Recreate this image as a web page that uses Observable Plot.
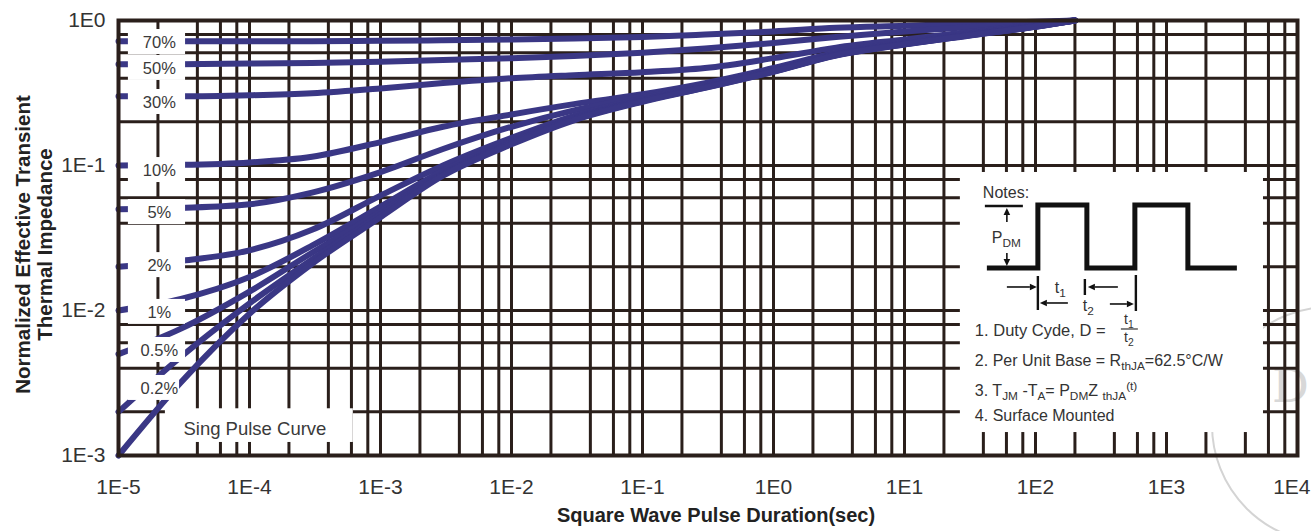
<!DOCTYPE html>
<html>
<head>
<meta charset="utf-8">
<script src="https://cdn.jsdelivr.net/npm/d3@7"></script>
<script src="https://cdn.jsdelivr.net/npm/@observablehq/plot@0.6"></script>
<style>
html, body { margin: 0; padding: 0; background: #fff; }
#chart { width: 1311px; height: 531px; overflow: hidden; }
</style>
</head>
<body>
<div id="chart"></div>
<script>
// ---------------- data ----------------
const durations = [1e-5, 3e-5, 1e-4, 3e-4, 1e-3, 3e-3, 1e-2, 3e-2, 1e-1, 3e-1, 1, 3, 10, 30, 100, 200];
const seriesNames = ["70%", "50%", "30%", "10%", "5%", "2%", "1%", "0.5%", "0.2%", "Single Pulse"];
const z70     = [0.72, 0.72, 0.72, 0.72, 0.725, 0.73, 0.74, 0.75, 0.77, 0.80, 0.84, 0.89, 0.92, 0.95, 0.98, 1.0];
const z50     = [0.50, 0.50, 0.505, 0.51, 0.52, 0.535, 0.55, 0.57, 0.60, 0.64, 0.70, 0.77, 0.84, 0.90, 0.96, 1.0];
const z30     = [0.30, 0.30, 0.305, 0.315, 0.34, 0.37, 0.40, 0.42, 0.44, 0.47, 0.55, 0.65, 0.74, 0.83, 0.94, 1.0];
const z10     = [0.10, 0.101, 0.105, 0.115, 0.145, 0.185, 0.225, 0.265, 0.31, 0.37, 0.47, 0.60, 0.71, 0.81, 0.93, 1.0];
const z5      = [0.05, 0.051, 0.054, 0.065, 0.09, 0.13, 0.185, 0.24, 0.30, 0.36, 0.46, 0.59, 0.70, 0.80, 0.92, 1.0];
const z2      = [0.02, 0.022, 0.026, 0.036, 0.062, 0.10, 0.155, 0.22, 0.29, 0.355, 0.455, 0.585, 0.695, 0.795, 0.915, 1.0];
const z1      = [0.01, 0.012, 0.017, 0.028, 0.052, 0.092, 0.148, 0.213, 0.283, 0.35, 0.45, 0.58, 0.69, 0.79, 0.91, 1.0];
const z05     = [0.005, 0.0075, 0.0135, 0.025, 0.048, 0.088, 0.145, 0.21, 0.28, 0.347, 0.447, 0.577, 0.687, 0.787, 0.908, 1.0];
const z02     = [0.002, 0.0048, 0.0112, 0.0225, 0.046, 0.086, 0.143, 0.208, 0.278, 0.345, 0.445, 0.575, 0.685, 0.785, 0.906, 1.0];
const zSingle = [0.001, 0.0032, 0.0095, 0.021, 0.044, 0.085, 0.14, 0.205, 0.275, 0.343, 0.443, 0.573, 0.683, 0.783, 0.905, 1.0];
const curveValues = [z70, z50, z30, z10, z5, z2, z1, z05, z02, zSingle];

const labelNames  = ["70%", "50%", "30%", "10%", "5%", "2%", "1%", "0.5%", "0.2%"];
const labelLevels = [0.705, 0.467, 0.272, 0.0923, 0.0474, 0.0204, 0.0097, 0.0053, 0.0029];
const labelAt = 2.05e-5;

const xTickValues = [1e-5, 1e-4, 1e-3, 1e-2, 1e-1, 1, 10, 100, 1000, 10000];
const xTickLabels = ["1E-5", "1E-4", "1E-3", "1E-2", "1E-1", "1E0", "1E1", "1E2", "1E3", "1E4"];
const yTickValues = [1e-3, 1e-2, 1e-1, 1];
const yTickLabels = ["1E-3", "1E-2", "1E-1", "1E0"];
const gridSteps = [1, 2, 4, 6, 8];
const xDecades = [1e-5, 1e-4, 1e-3, 1e-2, 1e-1, 1, 10, 100, 1000];
const yDecades = [1e-3, 1e-2, 1e-1];

const xTitle = "Square Wave Pulse Duration(sec)";
const yTitleLines = ["Normalized Effective Transient", "Thermal Impedance"];
const singleText = "Sing Pulse Curve";
const singleTextAt = [1.1e-4, 1.53e-3];

// annotation boxes (data coordinates)
const notesBox = [26.7, 5500, 0.0895, 0.00144];     // x1, x2, yTop, yBottom
const singleBox = [2.28e-5, 6.2e-4, 2.1e-3, 1.23e-3];
const labelBoxX = [1.19e-5, 3.25e-5];

// ---------------- styles ----------------
const ink = "#2a1f1b";
const curveColor = "#3a3785";
const textColor = "#333";
const FONT = "'Liberation Sans', Arial, Helvetica, sans-serif";

// ---------------- derived tables ----------------
const rows = curveValues.flatMap((vals, s) => vals.map((z, i) => ({series: seriesNames[s], t: durations[i], z})));
const xGrid = xDecades.flatMap(d => gridSteps.map(s => d * s)).concat([1e4]);
const yGrid = yDecades.flatMap(d => gridSteps.map(s => d * s)).concat([1]);
const labelRows = labelNames.map((name, i) => ({name, t: labelAt, z: labelLevels[i]}));
const lastX = xTickValues.length - 1;

function lookup(values, labels, skip) {
  return d => {
    const i = values.findIndex(v => Math.abs(Math.log10(v) - Math.log10(d)) < 1e-6);
    return i >= 0 && i !== skip ? labels[i] : "";
  };
}

// ---------------- custom annotation marks ----------------
function arrow(p, x1, y1, x2, y2) {
  const dx = Math.sign(x2 - x1), dy = Math.sign(y2 - y1);
  const L = 7, W = 3.3;
  const bx = x2 - dx * L, by = y2 - dy * L;
  p.append("line").attr("x1", x1).attr("y1", y1).attr("x2", bx).attr("y2", by)
    .attr("stroke", "#111").attr("stroke-width", 1.6);
  const px = -dy, py = dx;
  p.append("path").attr("d", `M${x2},${y2}L${bx + px * W},${by + py * W}L${bx - px * W},${by - py * W}Z`).attr("fill", "#111");
}
function rich(p, x, y, parts, size, anchor) {
  const t = p.append("text").attr("x", x).attr("y", y).attr("font-size", size).attr("fill", textColor)
    .attr("text-anchor", anchor || "start");
  let shift = 0;
  for (const part of parts) {
    const target = part.sub ? 4 : part.sup ? -6 : 0;
    t.append("tspan").attr("dy", target - shift)
      .attr("font-size", part.sub || part.sup ? size * 0.74 : size).text(part.t);
    shift = target;
  }
  return t;
}
function tick(p, x, y1, y2) {
  p.append("line").attr("x1", x).attr("x2", x).attr("y1", y1).attr("y2", y2).attr("stroke", "#111").attr("stroke-width", 2.4);
}

function notesMark(index, scales) {
  const sx = scales.x, sy = scales.y;
  const x0 = sx(notesBox[0]), x1 = sx(notesBox[1]);
  const y0 = sy(notesBox[2]), y1 = sy(notesBox[3]);
  const g = d3.create("svg:g").attr("font-family", FONT);
  g.append("rect").attr("x", x0).attr("y", y0).attr("width", x1 - x0).attr("height", y1 - y0).attr("fill", "#fff");
  const n = g.append("g").attr("transform", `translate(${x0},${y0})`);
  rich(n, 23, 26, [{t: "Notes:"}], 16);
  n.append("path").attr("d", "M27,96H78V33H127V96H175V33H228V96H277")
    .attr("fill", "none").attr("stroke", "#111").attr("stroke-width", 5).attr("stroke-linejoin", "miter");
  n.append("line").attr("x1", 25).attr("x2", 63).attr("y1", 34).attr("y2", 34).attr("stroke", "#111").attr("stroke-width", 2.4);
  arrow(n, 47, 50, 47, 36);
  rich(n, 32, 71, [{t: "P"}, {t: "DM", sub: true}], 16);
  arrow(n, 47, 81, 47, 94);
  arrow(n, 47, 115, 77, 115);
  tick(n, 78, 104, 138);
  rich(n, 95, 121, [{t: "t"}, {t: "1", sub: true}], 16);
  arrow(n, 108, 131, 80, 131);
  tick(n, 125, 107, 123);
  arrow(n, 158, 115, 128, 115);
  rich(n, 123, 139, [{t: "t"}, {t: "2", sub: true}], 16);
  arrow(n, 150, 132, 174, 132);
  tick(n, 176, 103, 139);
  rich(n, 15, 164, [{t: "1. Duty Cyde, D ="}], 16.5);
  rich(n, 169, 152, [{t: "t"}, {t: "1", sub: true}], 14, "middle");
  n.append("line").attr("x1", 161).attr("x2", 178).attr("y1", 157).attr("y2", 157).attr("stroke", textColor).attr("stroke-width", 1.2);
  rich(n, 169, 170, [{t: "t"}, {t: "2", sub: true}], 14, "middle");
  rich(n, 15, 194, [{t: "2. Per Unit Base = R"}, {t: "thJA", sub: true}, {t: "=62.5°C/W"}], 16);
  rich(n, 15, 224, [{t: "3. T"}, {t: "JM", sub: true}, {t: " -T"}, {t: "A", sub: true}, {t: "= P"}, {t: "DM", sub: true},
                    {t: "Z "}, {t: "thJA", sub: true}, {t: "(t)", sup: true}], 16);
  rich(n, 15, 249, [{t: "4. Surface Mounted"}], 16);
  return g.node();
}

function singleBoxMark(index, scales) {
  const sx = scales.x, sy = scales.y;
  const g = d3.create("svg:g");
  g.append("rect").attr("x", sx(singleBox[0])).attr("y", sy(singleBox[2]))
    .attr("width", sx(singleBox[1]) - sx(singleBox[0])).attr("height", sy(singleBox[3]) - sy(singleBox[2]))
    .attr("fill", "#fff");
  return g.node();
}

function labelBoxMark(index, scales) {
  const sx = scales.x, sy = scales.y;
  const g = d3.create("svg:g");
  const xa = sx(labelBoxX[0]), xb = sx(labelBoxX[1]);
  labelLevels.forEach((v, i) => {
    const cy = sy(v);
    const right = i === labelLevels.length - 1 ? xb - 6 : xb;
    g.append("rect").attr("x", xa).attr("y", cy - 13).attr("width", right - xa).attr("height", 25).attr("fill", "#fff");
  });
  return g.node();
}

function yTitleMark(index, scales, values, dims) {
  const g = d3.create("svg:g").attr("font-family", FONT).attr("font-weight", "bold")
    .attr("font-size", 20.5).attr("fill", "#222").attr("text-anchor", "middle");
  const cy = (dims.marginTop + dims.height - dims.marginBottom) / 2 + 7;
  yTitleLines.forEach((line, i) => {
    const cx = 23 + i * 22;
    g.append("text").attr("transform", `translate(${cx},${cy}) rotate(-90)`).attr("dy", "0.35em").text(line);
  });
  return g.node();
}

function watermarkMark(index, scales, values, dims) {
  const g = d3.create("svg:g");
  g.append("circle").attr("cx", dims.width + 19).attr("cy", 425).attr("r", 118)
    .attr("fill", "none").attr("stroke", "#d4d4d4").attr("stroke-width", 2);
  g.append("text").attr("x", dims.width - 2).attr("y", 402).attr("font-family", "'DejaVu Serif', serif")
    .attr("text-anchor", "end").attr("font-size", 46).attr("fill", "#d8d8d8").text("D");
  return g.node();
}

// ---------------- plot ----------------
const chart = Plot.plot({
  width: 1311,
  height: 531,
  marginLeft: 118,
  marginRight: 14,
  marginTop: 20,
  marginBottom: 76,
  style: {background: "#fff", fontFamily: FONT, fontSize: "21px", color: textColor},
  x: {type: "log", domain: [1e-5, 1e4], ticks: xTickValues, tickFormat: lookup(xTickValues, xTickLabels, lastX),
      tickSize: 0, tickPadding: 24, label: null},
  y: {type: "log", domain: [1e-3, 1], ticks: yTickValues, tickFormat: lookup(yTickValues, yTickLabels, -1),
      tickSize: 0, tickPadding: 13, label: null},
  marks: [
    watermarkMark,
    Plot.ruleX(xGrid, {stroke: ink, strokeWidth: 3}),
    Plot.ruleY(yGrid, {stroke: ink, strokeWidth: 3}),
    notesMark,
    singleBoxMark,
    Plot.line(rows, {x: "t", y: "z", z: "series", stroke: curveColor, strokeWidth: 6, curve: "monotone-x"}),
    labelBoxMark,
    Plot.text(labelRows, {x: "t", y: "z", text: "name", fontSize: 16.5, fill: "#3a3a3a", textAnchor: "middle"}),
    Plot.text([singleText], {x: () => singleTextAt[0], y: () => singleTextAt[1], text: d => d, fontSize: 18.5, fill: "#3a3a3a"}),
    Plot.frame({stroke: ink, strokeWidth: 4}),
    Plot.text([xTickLabels[lastX]], {x: () => xTickValues[lastX], frameAnchor: "bottom", text: d => d, textAnchor: "end",
                                     dx: 13, dy: 38, fontSize: 21, fill: textColor}),
    Plot.text([xTitle], {frameAnchor: "bottom", dx: 8, dy: 66, text: d => d, fontSize: 20, fontWeight: "bold", fill: "#222"}),
    yTitleMark
  ]
});
document.getElementById("chart").append(chart);
</script>
</body>
</html>
